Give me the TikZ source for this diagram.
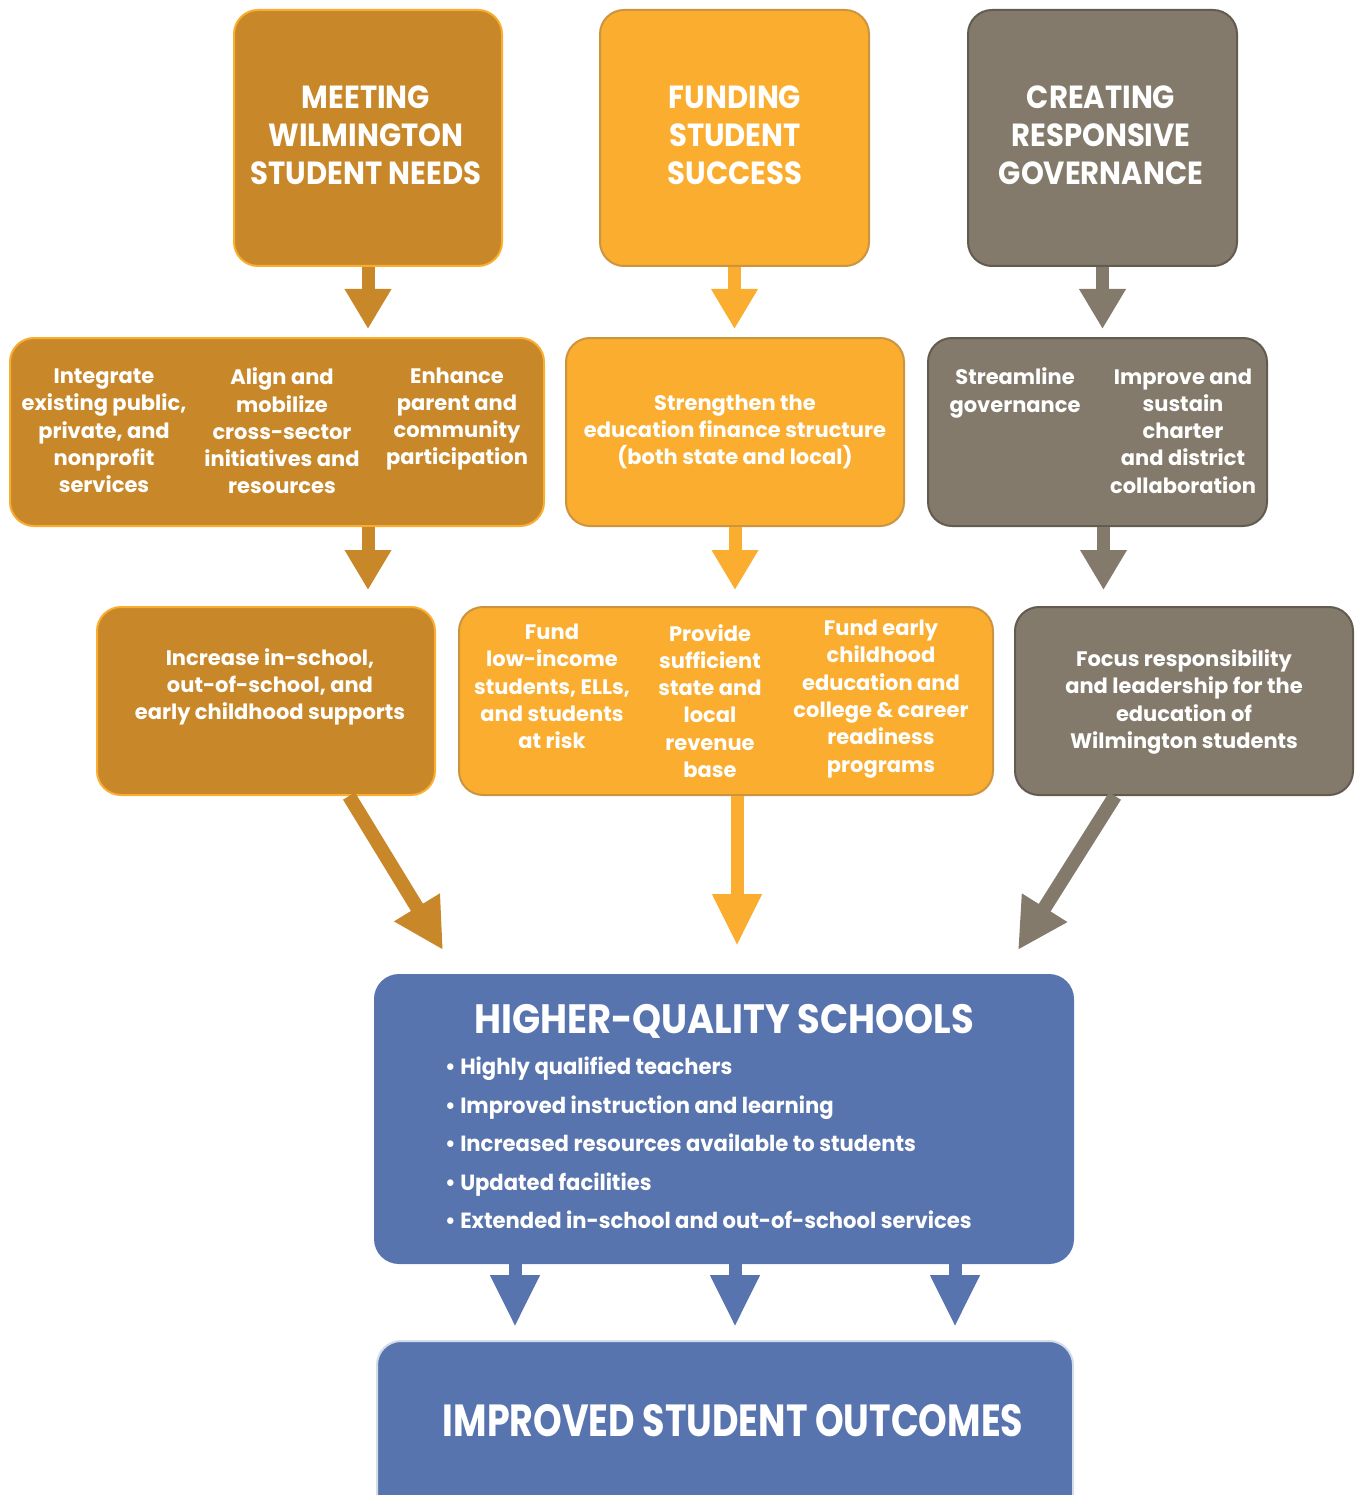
\documentclass[tikz,border=0pt]{standalone}
\usepackage{fontspec}
\setmainfont{Poppins}
\usepackage{xcolor}
\usepackage{tikz}
\usetikzlibrary{calc,arrows.meta}
\definecolor{darkor}{HTML}{C8882A}
\definecolor{lightor}{HTML}{FBAD30}
\definecolor{grey}{HTML}{837A6B}
\definecolor{greyedge}{HTML}{625B4F}
\definecolor{blue}{HTML}{5874AE}
\definecolor{blueedge}{HTML}{D3DDEA}
\tikzset{
  box/.style={rounded corners=24pt, line width=2pt, inner sep=0pt},
  boxdark/.style={box, fill=darkor, draw=lightor},
  boxlight/.style={box, fill=lightor, draw=darkor!90},
  boxgrey/.style={box, fill=grey, draw=greyedge},
  boxblue/.style={box, fill=blue, draw=blue},
  head/.style={text=white, font=\fontsize{32}{38}\selectfont\bfseries, align=center, xscale=0.91},
  txt/.style={text=white, font=\fontsize{21}{27.3}\selectfont\bfseries, align=center, inner sep=0pt},
  arrtop/.style={line width=13pt, -{Triangle[length=40pt,width=44pt]}},
  arrlow/.style={line width=13pt, -{Triangle[length=52pt,width=46pt]}},
  arrdiag/.style={line width=14pt, -{Triangle[length=50pt,width=50pt]}},
}

\begin{document}
\begin{tikzpicture}[x=1pt, y=-1pt]
  \useasboundingbox (0,0) rectangle (1361,1495);
  \clip (0,0) rectangle (1361,1495);

  % three goals
  \node[boxdark, minimum width=268pt, minimum height=256pt] (goalA) at (368,138) {};
  \node[boxlight, minimum width=269pt, minimum height=256pt] (goalB) at (734.5,138) {};
  \node[boxgrey, minimum width=269pt, minimum height=256pt] (goalC) at (1102.5,138) {};
  \node[head] (hA) at (366,135) {MEETING\\WILMINGTON\\STUDENT NEEDS};
  \node[head] (hB) at (735,135) {FUNDING\\STUDENT\\SUCCESS};
  \node[head] (hC) at (1101,135) {CREATING\\RESPONSIVE\\GOVERNANCE};

  % strategies
  \node[boxdark, minimum width=534pt, minimum height=188pt] (stratA) at (277,432) {};
  \node[boxlight, minimum width=338pt, minimum height=188pt] (stratB) at (735,432) {};
  \node[boxgrey, minimum width=339pt, minimum height=188pt] (stratC) at (1097.5,432) {};
  \node[txt] (sA1) at (104,431) {Integrate\\existing public,\\private, and\\nonprofit\\services};
  \node[txt] (sA2) at (282,431) {Align and\\mobilize\\cross-sector\\initiatives and\\resources};
  \node[txt] (sA3) at (457,419) {Enhance\\parent and\\community\\participation};
  \node[txt] (sB1) at (735,432) {Strengthen the\\education finance structure\\(both state and local)};
  \node[txt] (sC1) at (1015,393) {Streamline\\governance};
  \node[txt] (sC2) at (1183,431) {Improve and\\sustain\\charter\\and district\\collaboration};

  % actions
  \node[boxdark, minimum width=338pt, minimum height=188pt] (actA) at (266,701) {};
  \node[boxlight, minimum width=534pt, minimum height=188pt] (actB) at (726,701) {};
  \node[boxgrey, minimum width=338pt, minimum height=188pt] (actC) at (1184,701) {};
  \node[txt] (aA1) at (270,687) {Increase in-school,\\out-of-school, and\\early childhood supports};
  \node[txt] (aB1) at (552,686.5) {Fund\\low-income\\students, ELLs,\\and students\\at risk};
  \node[txt] (aB2) at (710,701) {Provide\\sufficient\\state and\\local\\revenue\\base};
  \node[txt] (aB3) at (881,699) {Fund early\\childhood\\education and\\college \& career\\readiness\\programs};
  \node[txt] (aC1) at (1184,702) {Focus responsibility\\and leadership for the\\education of\\Wilmington students};

  % schools and outcomes
  \node[boxblue, minimum width=698pt, minimum height=288pt] (schools) at (724,1119) {};
  \node[text=white, font=\fontsize{41}{41}\selectfont\bfseries, xscale=0.9, inner sep=0pt] (hS) at (724,1021) {HIGHER-QUALITY SCHOOLS};
  \node[text=white, font=\fontsize{22}{38.5}\selectfont\bfseries, align=left, anchor=west, xscale=0.96, inner sep=0pt] (lS) at (445,1143)
    {\textbullet\ Highly qualified teachers\\
     \textbullet\ Improved instruction and learning\\
     \textbullet\ Increased resources available to students\\
     \textbullet\ Updated facilities\\
     \textbullet\ Extended in-school and out-of-school services};
  \node[boxblue, draw=blueedge, minimum width=696pt, minimum height=200pt] (outcomes) at (725,1441) {};
  \node[text=white, font=\fontsize{45}{45}\selectfont\bfseries, xscale=0.81, inner sep=0pt] (hO) at (733,1421) {IMPROVED STUDENT OUTCOMES};

  % arrows
  \coordinate (tipL) at (443,950);
  \coordinate (tipM) at (737,946);
  \coordinate (tipR) at (1018,950);
  \draw[arrtop, darkor] (goalA.south) -- ($(goalA.south |- stratA.north)+(0,-8)$);
  \draw[arrtop, lightor] (goalB.south) -- ($(goalB.south |- stratB.north)+(0,-8)$);
  \draw[arrtop, grey] (goalC.south) -- ($(goalC.south |- stratC.north)+(0,-8)$);
  \draw[arrtop, darkor] (goalA.south |- stratA.south) -- ($(goalA.south |- actA.north)+(0,-16)$);
  \draw[arrtop, lightor] (stratB.south) -- ($(stratB.south |- actB.north)+(0,-16)$);
  \draw[arrtop, grey] ($(stratC.south)+(6,0)$) -- ($(stratC.south |- actC.north)+(6,-16)$);
  \draw[arrdiag, darkor] ($(actA.south)+(83,0)$) -- (tipL);
  \draw[arrlow, lightor] (tipM |- actB.south) -- (tipM);
  \draw[arrdiag, grey] ($(actC.south)+(-69,0)$) -- (tipR);
  \foreach \xo in {515,735,955}
    \draw[arrlow, blue] (\xo,1262) -- (\xo,1327);
\end{tikzpicture}
\end{document}
